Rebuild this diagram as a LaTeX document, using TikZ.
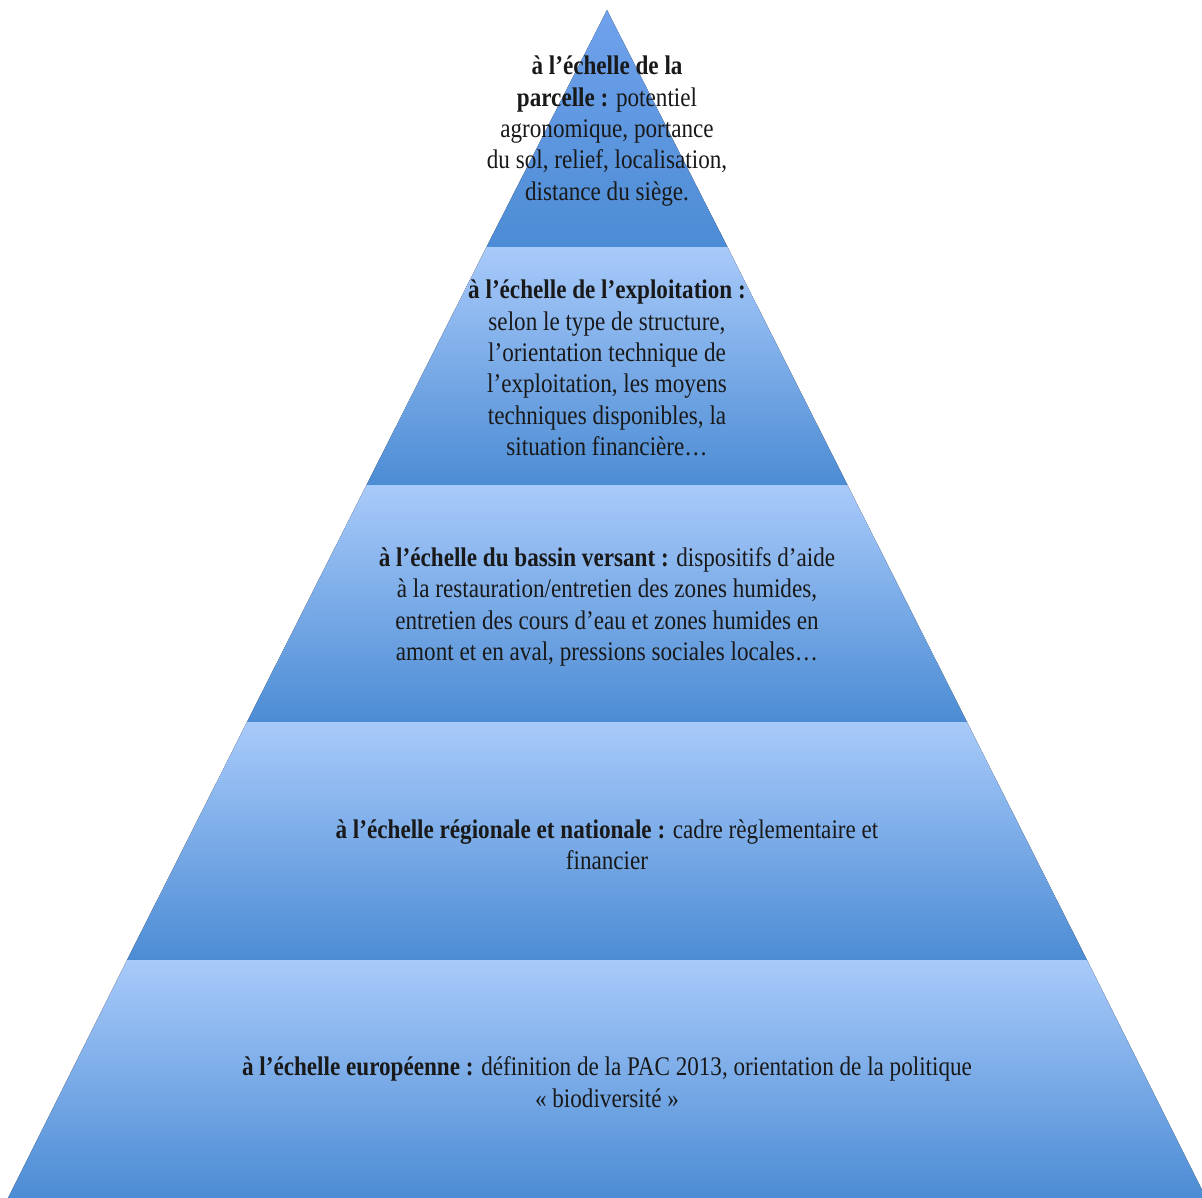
\documentclass[tikz,border=0pt]{standalone}
\usepackage{fontspec}
\setmainfont{Liberation Serif}[FakeStretch=0.86]
\definecolor{bandtop}{RGB}{168,202,250}
\definecolor{bandbot}{RGB}{76,140,212}
\definecolor{apextop}{RGB}{112,162,236}
\tikzset{
  band/.style={top color=bandtop, bottom color=bandbot, draw=none},
  label/.style={align=center, text=black!90, font=\fontsize{27}{31.5}\selectfont, inner sep=0pt}
}
\begin{document}
\begin{tikzpicture}[x=1bp, y=-1bp]
  \useasboundingbox (0,0) rectangle (1202,1198);
    %%band 1 (apex)
    \fill[band, top color=apextop](607, 10) -- (727.5, 247) -- (486.5, 247) -- cycle;
    %%band 2
    \fill[band](486.5, 247) -- (727.5, 247) -- (847.5, 485) -- (366.5, 485) -- cycle;
    %%band 3
    \fill[band](366.5, 485) -- (847.5, 485) -- (967, 722) -- (247, 722) -- cycle;
    %%band 4
    \fill[band](247, 722) -- (967, 722) -- (1087, 960) -- (127, 960) -- cycle;
    %%band 5
    \fill[band](127, 960) -- (1087, 960) -- (1206, 1198) -- (8, 1198) -- cycle;

  \node[label] (parcelle) at (607, 131){\textbf{à l’échelle de la}\\
    \textbf{parcelle :} potentiel\\ agronomique, portance\\
    du sol, relief, localisation,\\ distance du siège.};
  \node[label] (exploitation) at (607, 368){\textbf{à l’échelle de l’exploitation :}\\
    selon le type de structure,\\ l’orientation technique de\\
    l’exploitation, les moyens\\ techniques disponibles, la\\ situation financière…};
  \node[label] (bassin) at (607, 607){\textbf{à l’échelle du bassin versant :} dispositifs d’aide\\
    à la restauration/entretien des zones humides,\\
    entretien des cours d’eau et zones humides en\\
    amont et en aval, pressions sociales locales…};
  \node[label] (region) at (607, 845){\textbf{à l’échelle régionale et nationale :} cadre règlementaire et\\ financier};
  \node[label] (europe) at (607, 1082){\textbf{à l’échelle européenne :} définition de la PAC 2013, orientation de la politique\\ « biodiversité »};
\end{tikzpicture}
\end{document}
